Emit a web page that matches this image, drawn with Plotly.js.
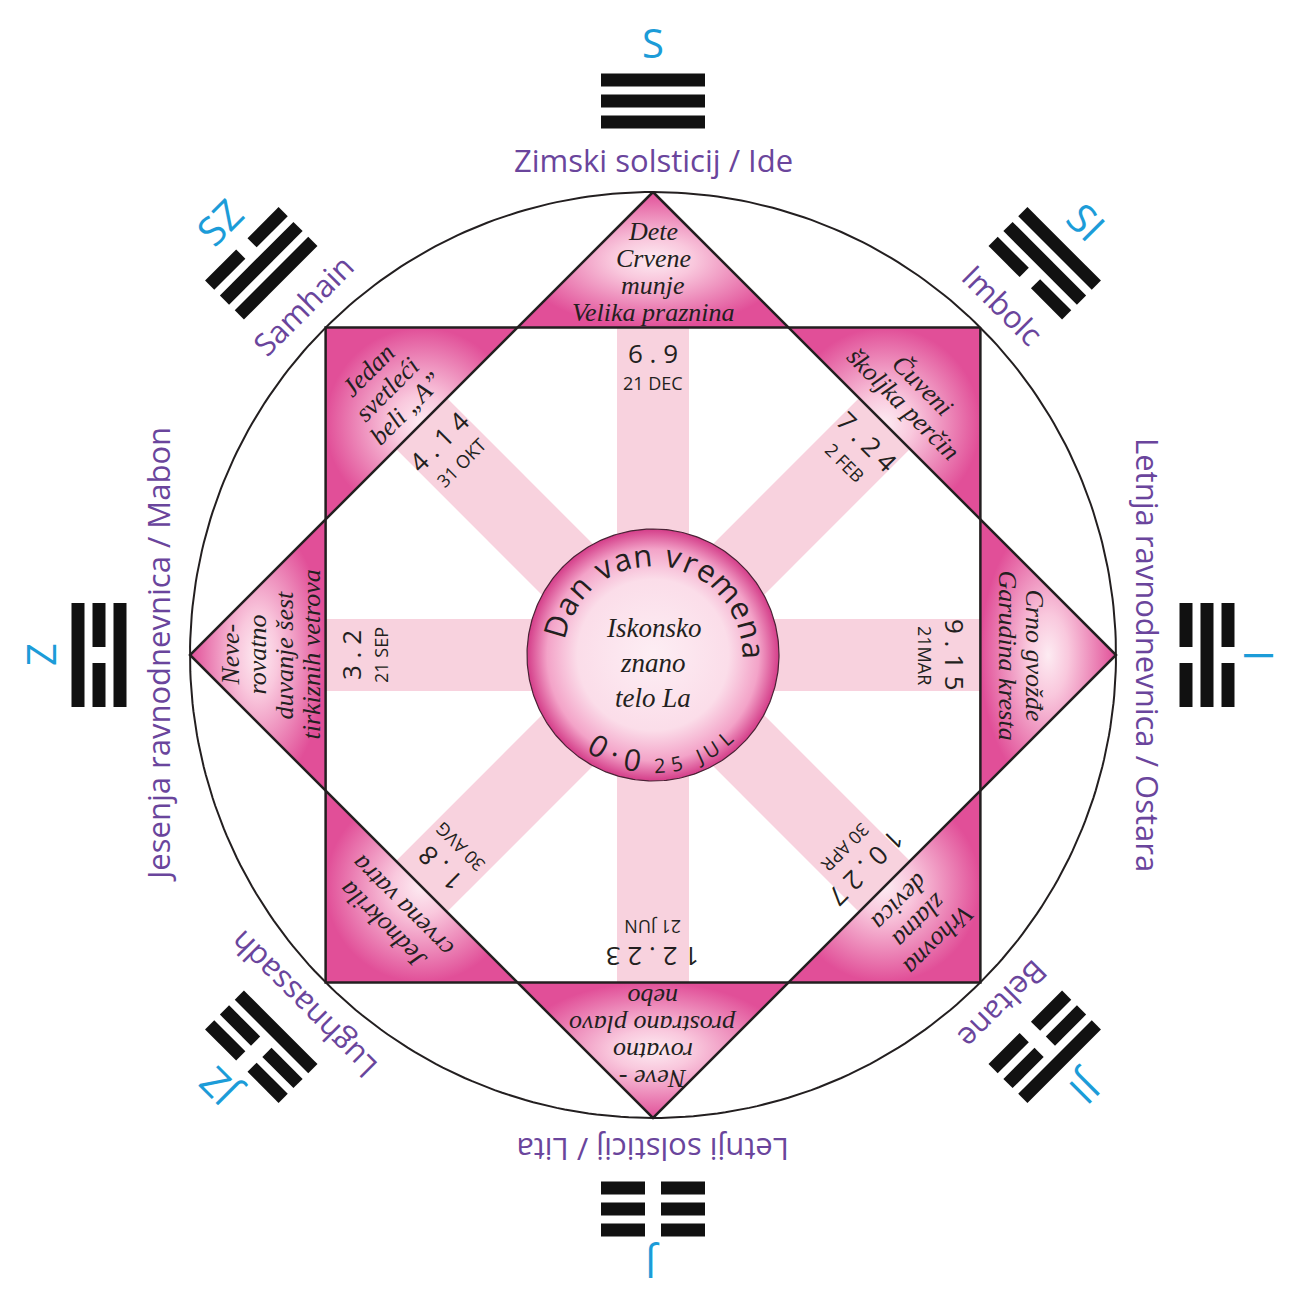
<!DOCTYPE html>
<html><head><meta charset="utf-8">
<script src="https://cdn.plot.ly/plotly-3.0.1.min.js"></script>
<style>html,body{margin:0;padding:0;background:#fff}</style>
</head><body><div id="chart" style="width:1289px;height:1294px"></div>
<script>
// ---------- DATA (clockwise from top) ----------
const directions = ['S','SI','I','JI','J','JZ','Z','SZ'];
const festivals = ['Zimski solsticij / Ide','Imbolc','Letnja ravnodnevnica / Ostara','Beltane',
                   'Letnji solsticij / Lita','Lughnassadh','Jesenja ravnodnevnica / Mabon','Samhain'];
// trigram lines from inner (near circle) to outer: 1 = solid, 0 = broken
const trigrams = [[1,1,1],[0,1,1],[0,1,0],[0,0,1],[0,0,0],[1,0,0],[1,0,1],[1,1,0]];
const triangleLabels = [
  ['Dete','Crvene','munje','Velika praznina'],
  ['Čuveni','školjka perčin'],
  ['Crno gvožđe','Garudina kresta'],
  ['Vrhovna','zlatna','devica'],
  ['Neve -','rovatno','prostrano plavo','nebo'],
  ['Jednokrila','crvena vatra'],
  ['Neve-','rovatno','duvanje šest','tirkiznih vetrova'],
  ['Jedan','svetleći','beli „A”']
];
const dayNumbers = ['6 . 9','7 . 2 4','9 . 1 5','1 0 . 2 7','1 2 . 2 3','1 . 8','3 . 2','4 . 1 4'];
const dayDates = ['21 DEC','2 FEB','21MAR','30 APR','21 JUN','30 AVG','21 SEP','31 OKT'];
const centerArcTop = 'Dan van vremena';
const centerNumber = '0·0';
const centerDate = '25 JUL';
const centerLabel = ['Iskonsko','znano','telo La'];

// ---------- STYLE / GEOMETRY ----------
const W_PX = 1289, H_PX = 1294;
const CX = 653, CY = 655, R = 463, H = R / Math.SQRT2, BEAM_W = 72, DISC_R = 126;
const DARK = '#231f20', BEAM = '#f8d2de', CYAN = '#1c9cd8', PURPLE = '#6a459c';
const SANS = '"Open Sans", "Noto Sans", sans-serif';
const SERIF = '"Liberation Serif", "DejaVu Serif", serif';

function loc(t, w, deg) {
  const a = deg * Math.PI / 180;
  return [CX + w * Math.sin(a) + t * Math.cos(a), CY - w * Math.cos(a) + t * Math.sin(a)];
}
function ta(deg) { let d = ((deg % 360) + 360) % 360; if (d > 180) d -= 360; return d; }

const traces = [];
function poly(points, opts) {
  const xs = points.map(p => p[0]), ys = points.map(p => p[1]);
  xs.push(xs[0]); ys.push(ys[0]);
  traces.push(Object.assign({type:'scatter', mode:'lines', x:xs, y:ys, hoverinfo:'skip', showlegend:false}, opts));
}

// beams
for (let k = 0; k < 4; k++) {
  const a = 45 * k;
  poly([loc(-BEAM_W/2, -H, a), loc(BEAM_W/2, -H, a), loc(BEAM_W/2, H, a), loc(-BEAM_W/2, H, a)],
       {fill:'toself', fillcolor:BEAM, line:{width:0, color:BEAM}});
}
// star triangles
for (let k = 0; k < 8; k++) {
  const a = 45 * k;
  poly([loc(0, R, a), loc(R - H, H, a), loc(-(R - H), H, a)],
       {fill:'toself', fillcolor:'#eb7fb3', line:{width:0, color:'rgba(0,0,0,0)'},
        fillgradient:{type:'radial', colorscale:[[0,'#fdebf2'],[0.3,'#f9c8dd'],[1,'#e14f98']]}});
}
// circle, square, diamond outlines
const circ = []; for (let d = 0; d < 360; d += 1) circ.push(loc(0, R, d));
poly(circ, {line:{width:2, color:DARK}});
poly([0,1,2,3].map(i => loc(0, R, 45 + 90 * i)), {line:{width:2.5, color:DARK}});
poly([0,1,2,3].map(i => loc(0, R, 90 * i)), {line:{width:2.5, color:DARK}});
// center disc
const disc = []; for (let d = 0; d < 360; d += 1) disc.push(loc(0, DISC_R, d));
poly(disc, {fill:'toself', fillcolor:'#f7c6db', line:{width:1.2, color:'#4a2235'},
  fillgradient:{type:'radial', colorscale:[[0,'#fdeef4'],[0.6,'#fbdde9'],[0.84,'#f3a3c8'],[1,'#d43d89']]}});

// trigrams
const tx = [], ty = [];
trigrams.forEach((tg, k) => {
  const a = 45 * k;
  tg.forEach((solid, j) => {
    const r = 533 + 21 * j;
    const segs = solid ? [[-52, 52]] : [[-52, -8], [8, 52]];
    segs.forEach(s => {
      const p1 = loc(s[0], r, a), p2 = loc(s[1], r, a);
      tx.push(p1[0], p2[0], null); ty.push(p1[1], p2[1], null);
    });
  });
});
traces.push({type:'scatter', mode:'lines', x:tx, y:ty, line:{width:13, color:'#111'}, hoverinfo:'skip', showlegend:false});

// ---------- ANNOTATIONS ----------
const ann = [];
function txt(p, text, size, color, angle, family) {
  ann.push({x:p[0], y:p[1], xref:'x', yref:'y', text:text, showarrow:false, xanchor:'center', yanchor:'middle',
            textangle:angle, font:{family:family || SANS, size:size, color:color}});
}
function clampPt(p, m) { return [Math.min(Math.max(p[0], m), W_PX - m), Math.min(Math.max(p[1], m), H_PX - m)]; }
for (let k = 0; k < 8; k++) {
  const a = 45 * k;
  txt(clampPt(loc(0, 613, a), 29), directions[k], 40, CYAN, ta(a));
  txt(loc(0, 495, a), festivals[k], 31, PURPLE, ta(a));
  txt(loc(0, 302, a), dayNumbers[k], 26, DARK, ta(a));
  txt(loc(0, 272, a), dayDates[k], 18, DARK, ta(a));
  const lines = triangleLabels[k], n = lines.length;
  const rb = n === 4 ? 383 : n === 3 ? 376 : 368;
  lines.forEach((ln, i) => {
    txt(loc(0, rb + ((n - 1) / 2 - i) * 27, a), '<i>' + ln + '</i>', 26, DARK, ta(a), SERIF);
  });
}
centerLabel.forEach((ln, i) => txt([CX, CY + 8 + (i - 1) * 35], '<i>' + ln + '</i>', 27, DARK, 0, SERIF));

// curved text
const cv = document.createElement('canvas').getContext('2d');
function w(ch, size) { cv.font = size + 'px "Open Sans"'; return cv.measureText(ch).width; }
function arcPlace(str, size, track, r, startDeg, top) {
  let s = 0; const chars = str.split('');
  chars.forEach((ch, i) => {
    const wi = w(ch, size);
    if (i > 0) s += w(chars[i - 1], size) / 2 + track + wi / 2;
    const d = startDeg + (s / r) * 180 / Math.PI;
    if (ch === ' ') return;
    if (top) txt(loc(0, r, d), ch, size, DARK, ta(d));
    else txt(loc(0, r, 180 - d), ch, size, DARK, ta(-d));
  });
  return s;
}
// top arc centred
(function () {
  const size = 31, track = 3.5, r = 101;
  const chars = centerArcTop.split(''); let span = 0;
  for (let i = 1; i < chars.length; i++) span += w(chars[i-1], size)/2 + track + w(chars[i], size)/2;
  arcPlace(centerArcTop, size, track, r, 7 - (span / 2 / r) * 180 / Math.PI, true);
})();
arcPlace(centerNumber, 30, 6, 106, -31, false);
arcPlace(centerDate, 20, 5, 111, 3.5, false);

const layout = {
  width:W_PX, height:H_PX, margin:{l:0, r:0, t:0, b:0}, paper_bgcolor:'#fff', plot_bgcolor:'#fff',
  xaxis:{range:[0, W_PX], visible:false, fixedrange:true},
  yaxis:{range:[H_PX, 0], visible:false, fixedrange:true},
  showlegend:false, hovermode:false, annotations:ann
};
Plotly.newPlot('chart', traces, layout, {displayModeBar:false, staticPlot:true});
</script></body></html>
